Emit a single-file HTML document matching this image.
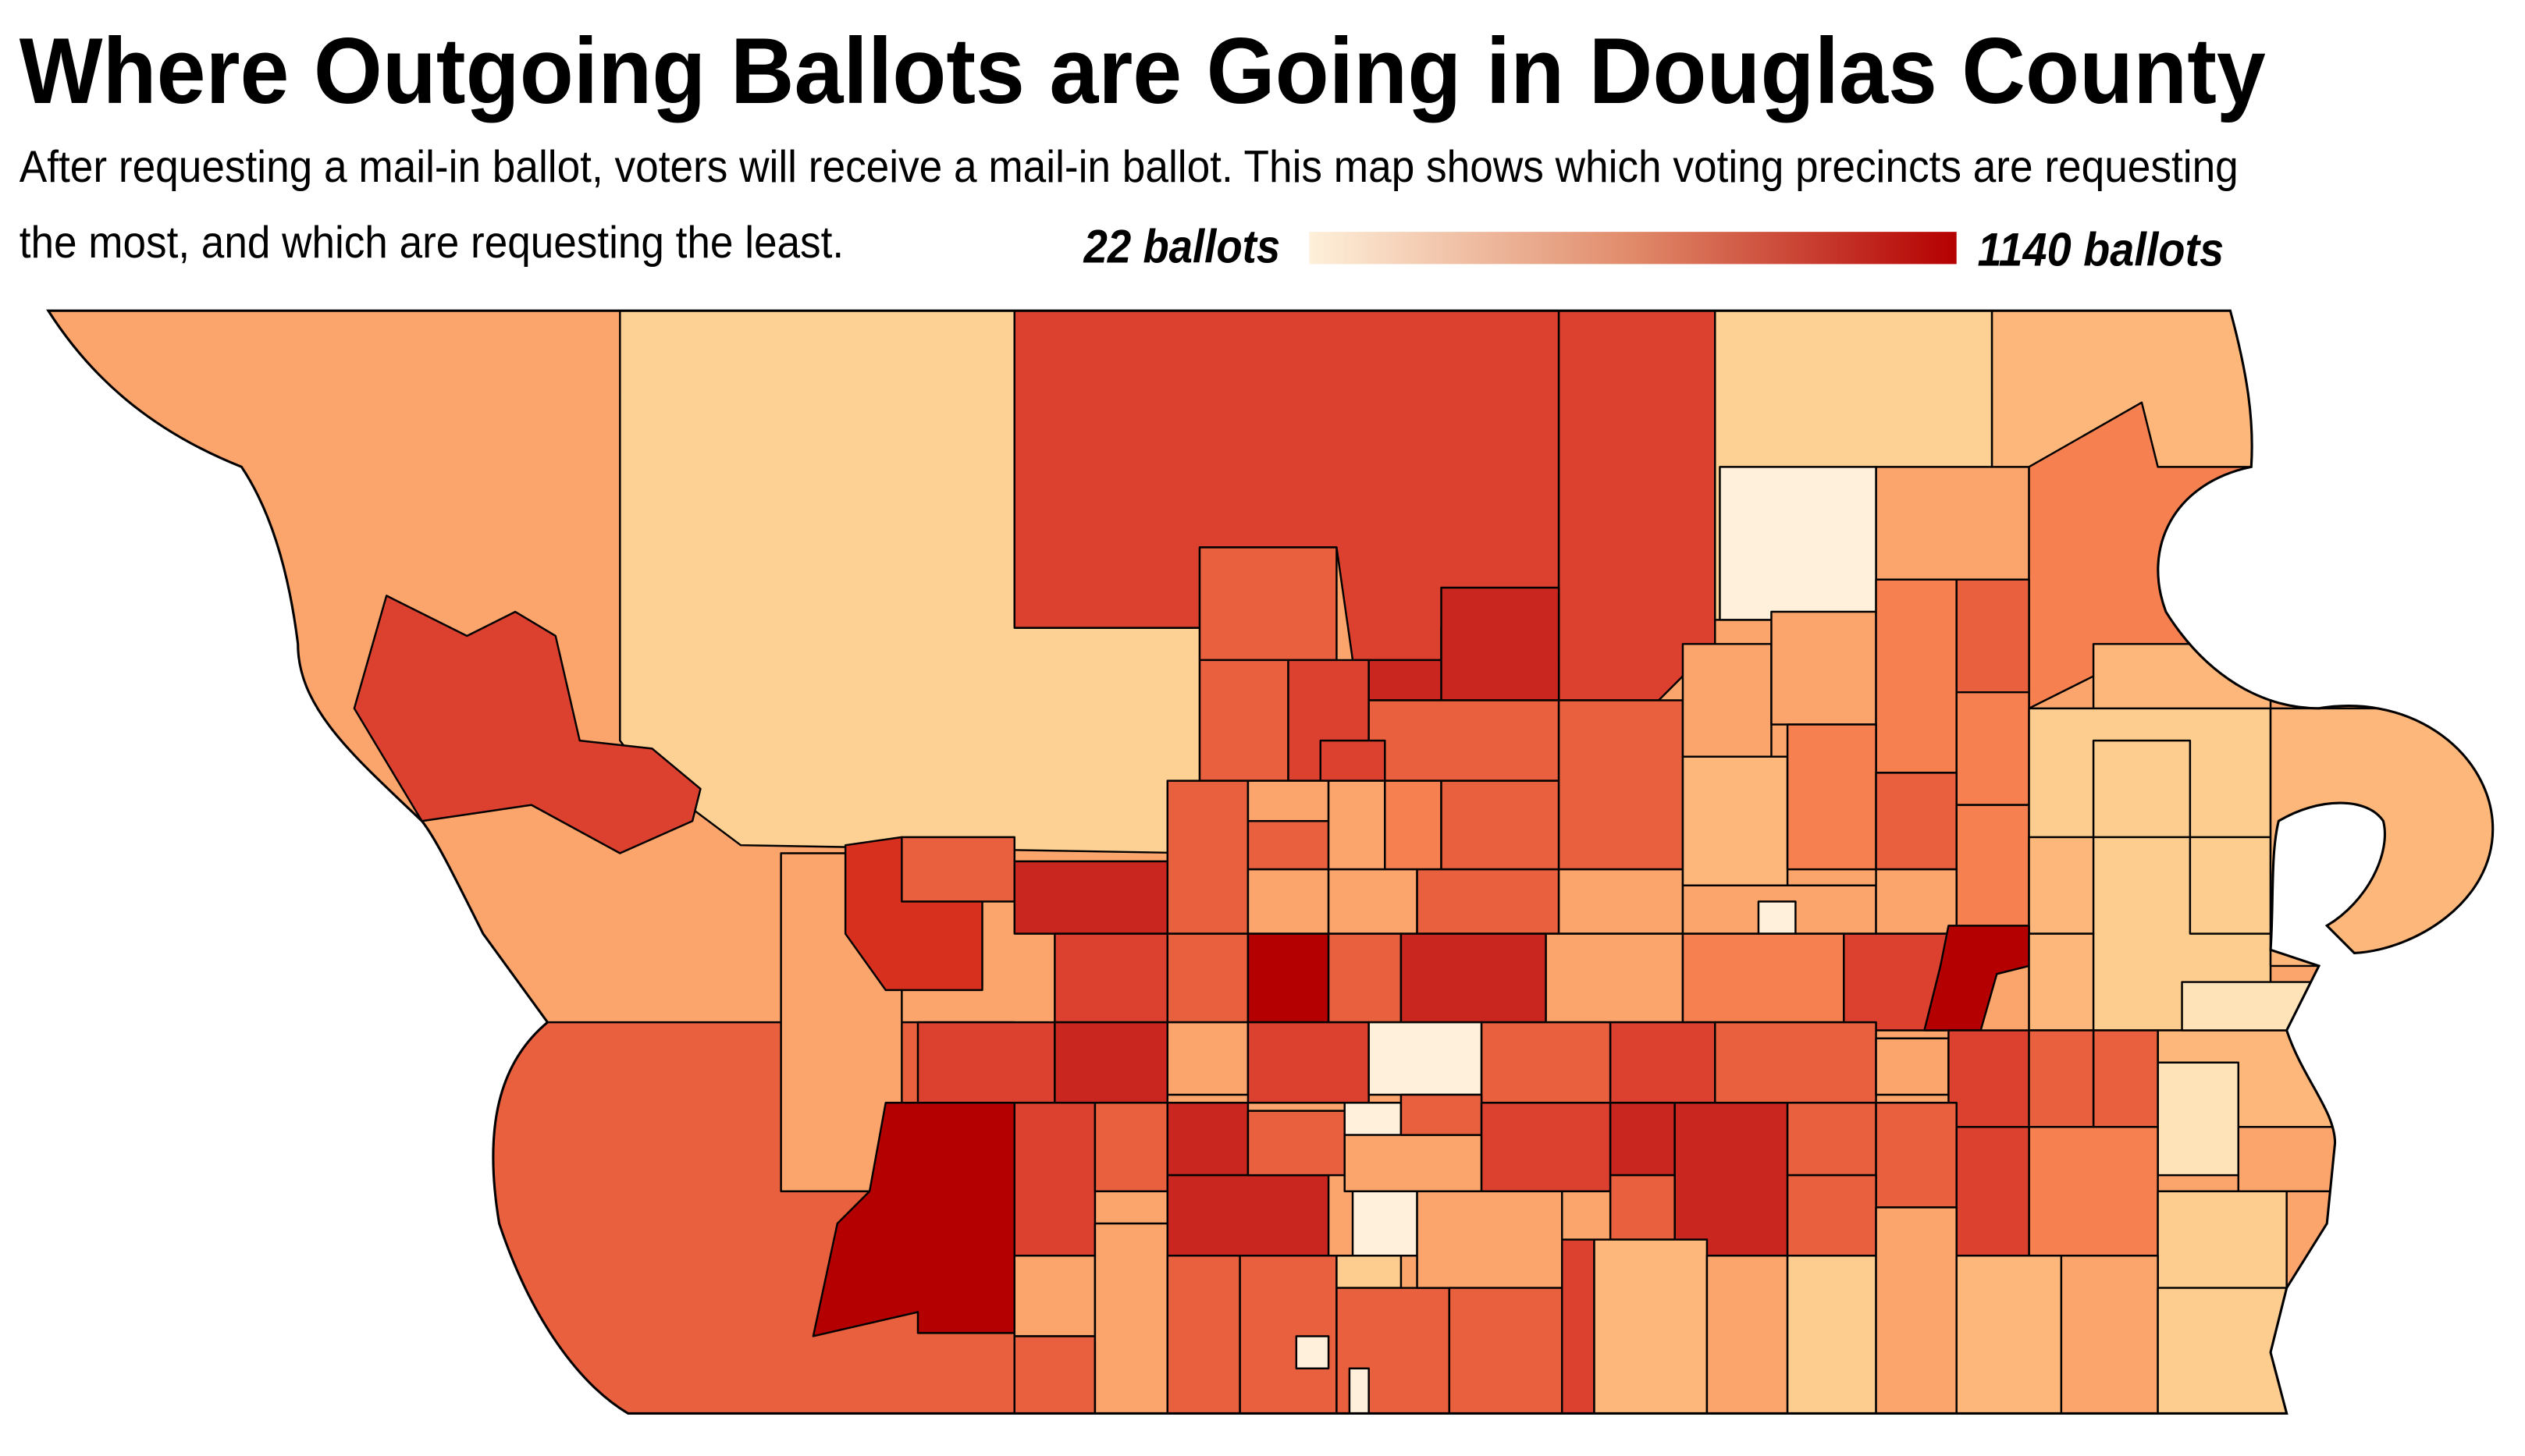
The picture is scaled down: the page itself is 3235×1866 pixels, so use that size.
<!DOCTYPE html>
<html><head><meta charset="utf-8"><style>
html,body{margin:0;padding:0;background:#fff;}
svg{display:block;}
text{font-family:"Liberation Sans Narrow","Liberation Sans",sans-serif;}
</style></head><body>
<svg width="3235" height="1866" viewBox="0 0 1568 904.4" xmlns="http://www.w3.org/2000/svg">
<defs>
<linearGradient id="g" x1="0" x2="1" y1="0" y2="0">
<stop offset="0" stop-color="#fef0da"/><stop offset="0.5" stop-color="#e08a6a"/><stop offset="1" stop-color="#b40000"/>
</linearGradient>
<clipPath id="c"><path id="o" d="M30,193 L1385,193 C1395,230 1400,260 1398,290 C1350,300 1330,340 1345,380 C1370,420 1405,440 1440,440 C1500,430 1548,470 1548,515 C1548,560 1500,590 1462,592 L1445,575 C1470,560 1485,530 1480,510 C1470,495 1440,495 1415,510 C1410,530 1412,560 1410,590 L1440,600 L1420,640 C1430,670 1450,690 1450,710 L1445,760 L1420,800 L1410,840 L1420,878 L390,878 C360,860 330,820 310,760 C300,700 310,660 340,635 L300,580 C280,540 270,520 262,510 C220,470 185,440 185,400 C180,360 170,320 150,290 C100,270 60,240 30,193 Z"/></clipPath>
</defs>
<rect width="1568" height="904.4" fill="#fff"/>
<text x="12" y="64" font-size="58" font-weight="bold" textLength="1395" lengthAdjust="spacingAndGlyphs">Where Outgoing Ballots are Going in Douglas County</text>
<text x="12" y="113" font-size="28" textLength="1378" lengthAdjust="spacingAndGlyphs">After requesting a mail-in ballot, voters will receive a mail-in ballot. This map shows which voting precincts are requesting</text>
<text x="12" y="160" font-size="28" textLength="512" lengthAdjust="spacingAndGlyphs">the most, and which are requesting the least.</text>
<text x="795" y="163" font-size="29" font-weight="bold" font-style="italic" text-anchor="end" textLength="122" lengthAdjust="spacingAndGlyphs">22 ballots</text>
<rect x="813" y="144" width="402" height="20" fill="url(#g)"/>
<text x="1228" y="165" font-size="29" font-weight="bold" font-style="italic" textLength="153" lengthAdjust="spacingAndGlyphs">1140 ballots</text>
<g clip-path="url(#c)" stroke="#000" stroke-width="1.2" stroke-linejoin="round">
<rect x="0" y="180" width="1568" height="710" fill="#fba56c"/>
<polygon points="385,180 630,180 630,390 745,390 745,530 460,525 400,480 385,460" fill="#fdd093"/>
<polygon points="630,180 968,180 968,390 895,390 895,410 840,410 830,340 745,340 745,390 630,390" fill="#dc4130"/>
<polygon points="968,180 1065,180 1065,400 1030,435 968,435" fill="#dc4130"/>
<polygon points="1065,180 1237,180 1237,290 1165,290 1165,385 1065,385" fill="#fdd093"/>
<rect x="1068" y="290" width="97" height="95" fill="#fef0da"/>
<polygon points="1237,180 1420,180 1420,380 1260,380 1260,290 1237,290" fill="#fdb77a"/>
<polygon points="1260,290 1330,250 1340,290 1398,290 1345,380 1380,420 1300,420 1260,440" fill="#f6804f"/>
<polygon points="220,440 240,370 290,395 320,380 345,395 360,460 405,465 435,490 430,510 385,530 330,500 262,510" fill="#dc4130"/>
<rect x="290" y="635" width="340" height="260" fill="#e9603f"/>
<polygon points="485,530 560,530 560,740 485,740" fill="#fba56c"/>
<polygon points="550,685 630,685 630,828 570,828 570,815 505,830 520,760 540,740" fill="#b40000"/>
<polygon points="525,525 560,520 610,560 610,615 550,615 525,580" fill="#d7301f"/>
<rect x="560" y="520" width="70" height="40" fill="#e9603f"/>
<!-- area A -->
<rect x="745" y="340" width="85" height="70" fill="#e9603f"/>
<rect x="745" y="410" width="55" height="75" fill="#e9603f"/>
<rect x="800" y="410" width="50" height="75" fill="#dc4130"/>
<rect x="850" y="410" width="118" height="25" fill="#c8261f"/>
<rect x="895" y="365" width="73" height="70" fill="#c8261f"/>
<rect x="850" y="435" width="118" height="50" fill="#e9603f"/>
<rect x="820" y="460" width="40" height="25" fill="#dc4130"/>
<!-- area B -->
<rect x="725" y="485" width="50" height="95" fill="#e9603f"/>
<rect x="775" y="485" width="50" height="25" fill="#fba56c"/>
<rect x="775" y="510" width="50" height="30" fill="#e9603f"/>
<rect x="775" y="540" width="50" height="40" fill="#fba56c"/>
<rect x="825" y="485" width="35" height="55" fill="#fba56c"/>
<rect x="860" y="485" width="35" height="55" fill="#f6804f"/>
<rect x="895" y="485" width="73" height="55" fill="#e9603f"/>
<rect x="825" y="540" width="55" height="40" fill="#fba56c"/>
<rect x="880" y="540" width="88" height="40" fill="#e9603f"/>
<rect x="968" y="435" width="77" height="105" fill="#e9603f"/>
<rect x="968" y="540" width="77" height="40" fill="#fba56c"/>
<rect x="630" y="535" width="95" height="45" fill="#c8261f"/>
<!-- area C -->
<rect x="1045" y="400" width="55" height="70" fill="#fba56c"/>
<rect x="1100" y="380" width="65" height="70" fill="#fba56c"/>
<rect x="1165" y="360" width="50" height="120" fill="#f6804f"/>
<rect x="1215" y="360" width="45" height="70" fill="#e9603f"/>
<rect x="1215" y="430" width="45" height="70" fill="#f6804f"/>
<rect x="1045" y="470" width="65" height="80" fill="#fdb77a"/>
<rect x="1110" y="450" width="55" height="90" fill="#f6804f"/>
<rect x="1165" y="480" width="50" height="60" fill="#e9603f"/>
<rect x="1215" y="500" width="45" height="80" fill="#f6804f"/>
<rect x="1045" y="550" width="120" height="30" fill="#fba56c"/>
<rect x="1165" y="540" width="50" height="40" fill="#fba56c"/>
<rect x="1092" y="560" width="23" height="20" fill="#fef0da"/>
<!-- area D -->
<rect x="1300" y="400" width="110" height="60" fill="#fdb77a"/>
<rect x="1260" y="440" width="150" height="200" fill="#fdcc8f"/>
<rect x="1300" y="460" width="60" height="60" fill="#fdcc8f"/>
<rect x="1360" y="520" width="50" height="60" fill="#fdcc8f"/>
<rect x="1260" y="520" width="40" height="60" fill="#fdb77a"/>
<rect x="1410" y="440" width="160" height="160" fill="#fdb77a"/>
<rect x="1340" y="640" width="110" height="60" fill="#fdb77a"/>
<rect x="1340" y="660" width="50" height="70" fill="#fee3b8"/>
<rect x="1260" y="700" width="80" height="80" fill="#f6804f"/>
<rect x="1340" y="740" width="80" height="60" fill="#fdcc8f"/>
<rect x="1280" y="780" width="60" height="100" fill="#fba56c"/>
<rect x="1340" y="800" width="80" height="80" fill="#fdcc8f"/>
<rect x="1355" y="610" width="90" height="30" fill="#fee3b8"/>
<rect x="1300" y="640" width="40" height="60" fill="#e9603f"/>
<rect x="1390" y="700" width="60" height="40" fill="#fba56c"/>
<!-- area E -->
<rect x="655" y="580" width="70" height="55" fill="#dc4130"/>
<rect x="725" y="580" width="50" height="55" fill="#e9603f"/>
<rect x="775" y="580" width="50" height="55" fill="#b40000"/>
<rect x="825" y="580" width="45" height="55" fill="#e9603f"/>
<rect x="870" y="580" width="90" height="55" fill="#c8261f"/>
<rect x="960" y="580" width="85" height="55" fill="#fba56c"/>
<rect x="1045" y="580" width="100" height="55" fill="#f6804f"/>
<rect x="1145" y="580" width="65" height="60" fill="#dc4130"/>
<polygon points="1210,575 1260,575 1260,600 1240,605 1230,640 1195,640 1205,600" fill="#b40000"/>
<rect x="1260" y="580" width="40" height="60" fill="#fdb77a"/>
<!-- area F -->
<rect x="570" y="635" width="85" height="50" fill="#dc4130"/>
<rect x="655" y="635" width="70" height="50" fill="#c8261f"/>
<rect x="725" y="635" width="50" height="45" fill="#fba56c"/>
<rect x="775" y="635" width="75" height="50" fill="#dc4130"/>
<rect x="850" y="635" width="70" height="45" fill="#fef0da"/>
<rect x="920" y="635" width="80" height="50" fill="#e9603f"/>
<rect x="1000" y="635" width="65" height="50" fill="#dc4130"/>
<rect x="1065" y="635" width="100" height="50" fill="#e9603f"/>
<rect x="1165" y="645" width="45" height="35" fill="#fba56c"/>
<rect x="1210" y="640" width="50" height="60" fill="#dc4130"/>
<rect x="1260" y="640" width="40" height="60" fill="#e9603f"/>
<!-- area G -->
<rect x="630" y="685" width="50" height="95" fill="#dc4130"/>
<rect x="680" y="685" width="45" height="55" fill="#e9603f"/>
<rect x="725" y="685" width="50" height="45" fill="#c8261f"/>
<rect x="725" y="730" width="100" height="50" fill="#c8261f"/>
<rect x="775" y="690" width="60" height="40" fill="#e9603f"/>
<rect x="835" y="685" width="35" height="20" fill="#fef0da"/>
<rect x="835" y="705" width="85" height="35" fill="#fba56c"/>
<rect x="870" y="680" width="50" height="25" fill="#e9603f"/>
<rect x="920" y="685" width="80" height="55" fill="#dc4130"/>
<rect x="1000" y="685" width="40" height="45" fill="#c8261f"/>
<rect x="1040" y="685" width="70" height="95" fill="#c8261f"/>
<rect x="1110" y="685" width="55" height="45" fill="#e9603f"/>
<rect x="1165" y="685" width="50" height="65" fill="#e9603f"/>
<rect x="1215" y="700" width="45" height="80" fill="#dc4130"/>
<rect x="840" y="740" width="40" height="40" fill="#fef0da"/>
<rect x="1000" y="730" width="40" height="40" fill="#e9603f"/>
<rect x="1110" y="730" width="55" height="50" fill="#e9603f"/>
<!-- area H -->
<rect x="630" y="780" width="50" height="50" fill="#fba56c"/>
<rect x="630" y="830" width="50" height="50" fill="#e9603f"/>
<rect x="680" y="760" width="45" height="120" fill="#fba56c"/>
<rect x="725" y="780" width="45" height="100" fill="#e9603f"/>
<rect x="770" y="780" width="60" height="100" fill="#e9603f"/>
<rect x="830" y="780" width="40" height="20" fill="#fdcc8f"/>
<rect x="830" y="800" width="70" height="80" fill="#e9603f"/>
<rect x="880" y="740" width="90" height="60" fill="#fba56c"/>
<rect x="900" y="800" width="70" height="80" fill="#e9603f"/>
<rect x="970" y="770" width="20" height="110" fill="#dc4130"/>
<rect x="990" y="770" width="70" height="110" fill="#fdb77a"/>
<rect x="1060" y="780" width="50" height="100" fill="#fba56c"/>
<rect x="1110" y="780" width="55" height="100" fill="#fdcc8f"/>
<rect x="1165" y="750" width="50" height="130" fill="#fba56c"/>
<rect x="1215" y="780" width="65" height="100" fill="#fdb77a"/>
<rect x="805" y="830" width="20" height="20" fill="#fef0da"/>
<rect x="838" y="850" width="12" height="30" fill="#fef0da"/>
</g>
<use href="#o" fill="none" stroke="#000" stroke-width="1.5"/>
</svg>
</body></html>
